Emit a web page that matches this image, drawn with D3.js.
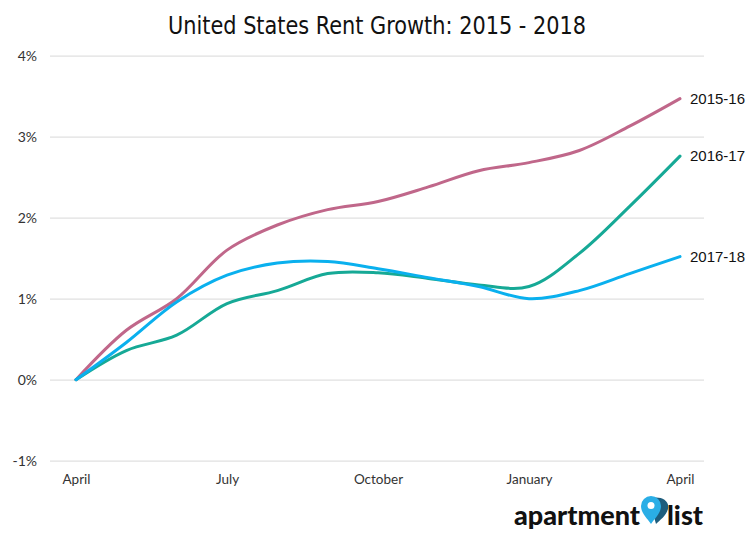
<!DOCTYPE html>
<html>
<head>
<meta charset="utf-8">
<script src="https://cdn.jsdelivr.net/npm/d3@7"></script>
<style>
  body { margin: 0; background: #fff; }
  svg { display: block; }
  .tick text { fill: #333; }
</style>
</head>
<body>
<svg id="chart" width="754" height="539"></svg>
<script>
// monthly rent growth (cumulative %) since April of each year
var months = ["April", "May", "June", "July", "August", "September", "October",
              "November", "December", "January", "February", "March", "April"];
var labeledMonths = [0, 3, 6, 9, 12];
var yTicks = [-1, 0, 1, 2, 3, 4];

var seriesNames = ["2015-16", "2016-17", "2017-18"];
var growth1516 = [0, 0.61, 1.0, 1.6, 1.91, 2.1, 2.2, 2.38, 2.58, 2.68, 2.83, 3.13, 3.47];
var growth1617 = [0, 0.36, 0.55, 0.94, 1.1, 1.31, 1.32, 1.25, 1.17, 1.15, 1.56, 2.14, 2.76];
var growth1718 = [0, 0.46, 0.96, 1.29, 1.44, 1.46, 1.37, 1.26, 1.15, 1.0, 1.1, 1.31, 1.52];
var seriesColors = ["#c0678a", "#16a996", "#0ab0ee"];

var series = [growth1516, growth1617, growth1718].map(function(vals, i) {
    return { name: seriesNames[i], color: seriesColors[i], values: vals };
});

var svg = d3.select('#chart');

var gridLeft = 50, gridRight = 704;

var x = d3.scaleLinear()
    .domain([0, months.length - 1])
    .range([76, 680]);

var y = d3.scaleLinear()
    .domain([-1, 4])
    .range([460.7, 55.7]);

// title
svg.append('text')
    .attr('x', 377)
    .attr('y', 34)
    .attr('text-anchor', 'middle')
    .attr('textLength', 418)
    .attr('lengthAdjust', 'spacingAndGlyphs')
    .style('font-family', '"Liberation Sans Narrow", "DejaVu Sans Condensed", sans-serif')
    .style('font-size', '25px')
    .style('fill', '#111')
    .text('United States Rent Growth: 2015 - 2018');

// y axis + gridlines
var yAxis = svg.append('g')
    .attr('transform', 'translate(' + gridLeft + ',0)')
    .call(d3.axisLeft(y)
        .tickValues(yTicks)
        .tickSize(-(gridRight - gridLeft))
        .tickPadding(13)
        .tickFormat(function(d) { return d + '%'; }));

yAxis.select('.domain').remove();
yAxis.selectAll('.tick line').attr('stroke', '#e0e0e0').attr('stroke-width', 1.3);
yAxis.selectAll('.tick text')
    .style('font-family', 'Lato, "Open Sans", sans-serif')
    .style('font-size', '14px');

// x axis, only quarters are labeled
var xAxis = svg.append('g')
    .attr('transform', 'translate(0,468)')
    .call(d3.axisBottom(x)
        .tickValues(labeledMonths)
        .tickSize(0)
        .tickPadding(6)
        .tickFormat(function(d) { return months[d]; }));

xAxis.select('.domain').remove();
xAxis.selectAll('.tick text')
    .style('font-family', 'Lato, "Open Sans", sans-serif')
    .style('font-size', '13.5px');

var line = d3.line()
    .x(function(d, i) { return x(i); })
    .y(function(d) { return y(d); })
    .curve(d3.curveCatmullRom.alpha(0.5));

svg.selectAll('path.series').data(series).enter().append('path')
    .attr('class', 'series')
    .attr('fill', 'none')
    .attr('stroke', function(d) { return d.color; })
    .attr('stroke-width', 3)
    .attr('stroke-linecap', 'round')
    .attr('d', function(d) { return line(d.values); });

// series labels at the line ends
svg.selectAll('text.label').data(series).enter().append('text')
    .attr('class', 'label')
    .attr('x', x(months.length - 1) + 10)
    .attr('y', function(d) { return y(d.values[d.values.length - 1]); })
    .attr('dy', '0.35em')
    .style('font-family', '"Liberation Sans", Arial, sans-serif')
    .style('font-size', '15px')
    .style('fill', '#111')
    .text(function(d) { return d.name; });

// apartment list logo
var logo = svg.append('g');
logo.append('text')
    .attr('x', 514)
    .attr('y', 525)
    .style('font-family', 'Lato, "Open Sans", sans-serif')
    .style('font-weight', 900)
    .style('font-size', '27px')
    .style('fill', '#111')
    .text('apartment');
logo.append('path')
    .attr('d', 'M652,498 C660,496 670,500 668,509 C666,516 660,520 656,524 L652,510 Z')
    .attr('fill', '#1d5d7d');
logo.append('path')
    .attr('d', 'M651,524 C647,518 641,513 641,506 A10,10 0 0 1 661,506 C661,513 655,518 651,524 Z')
    .attr('fill', '#2aaee6');
logo.append('circle')
    .attr('cx', 651)
    .attr('cy', 505.5)
    .attr('r', 3.5)
    .attr('fill', '#fff');
logo.append('text')
    .attr('x', 667)
    .attr('y', 525)
    .style('font-family', 'Lato, "Open Sans", sans-serif')
    .style('font-weight', 900)
    .style('font-size', '27px')
    .style('fill', '#111')
    .text('list');
</script>
</body>
</html>
